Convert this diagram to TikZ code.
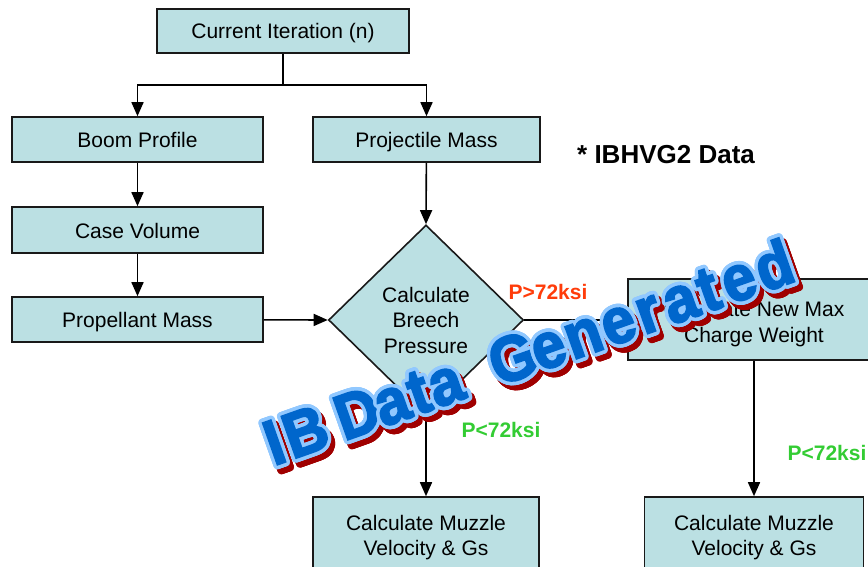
\documentclass[tikz,border=0pt]{standalone}
\usepackage{fontspec}
\setmainfont{Liberation Sans}
\newfontfamily\bannerfont{Liberation Sans}[BoldFeatures={FakeBold=3}]
\usepackage[copies]{contour}
\usetikzlibrary{arrows.meta,shapes.geometric}

\definecolor{boxfill}{RGB}{187,224,227}
\definecolor{hotlabel}{RGB}{255,60,10}
\definecolor{oklabel}{RGB}{51,204,51}
\definecolor{waBlue}{RGB}{0,102,204}
\definecolor{waEdge}{RGB}{145,200,255}
\definecolor{waShade}{RGB}{160,0,0}

\contourlength{3.6pt}
\contournumber{24}

% banner letters and their distance along the baseline
\newcommand\bannerletters{I/0,B/33,D/88,a/124,t/153,a/181,G/253,e/290,n/327,e/364,r/396,a/430,t/460,e/492,d/530}

\begin{document}
\begin{tikzpicture}[x=1pt,y=-1pt,
  flowbox/.style={draw=black!90, line width=1.6pt, fill=boxfill, inner sep=0pt,
    font=\fontsize{21}{25.5}\selectfont, align=center},
  oneline/.style={flowbox, text height=19pt, text depth=3pt},
  decision/.style={flowbox, shape=diamond, minimum width=195pt, minimum height=190pt},
  flow/.style={line width=1.6pt, -{Triangle[length=14pt,width=12pt]}},
  link/.style={line width=1.6pt},
  cond/.style={font=\fontsize{21}{25}\selectfont\bfseries, inner sep=0pt},
  note/.style={font=\fontsize{26}{30}\selectfont\bfseries, inner sep=0pt},
  banner/.style={font=\fontsize{64}{64}\bannerfont\bfseries, anchor=base,
    inner sep=0pt, transform shape, xscale=0.93},
]
\useasboundingbox (0,0) rectangle (868,567);

% process boxes
\node[oneline, minimum width=252pt, minimum height=44pt] (cur)  at (283,31)    {Current Iteration (n)};
\node[oneline, minimum width=251pt, minimum height=45pt] (boom) at (137.5,139.5) {Boom Profile};
\node[oneline, minimum width=227pt, minimum height=45pt] (proj) at (426.5,139.5) {Projectile Mass};
\node[oneline, minimum width=251pt, minimum height=46pt] (case) at (137.5,230)   {Case Volume};
\node[oneline, minimum width=251pt, minimum height=45pt] (prop) at (137.5,319.5) {Propellant Mass};
\node[decision] (breech) at (426,320) {Calculate\\Breech\\Pressure};
\node[flowbox, minimum width=252pt, minimum height=81pt] (newmax) at (754,319.5) {};
\node[inner sep=0pt, font=\fontsize{21}{25.5}\selectfont, align=center] (newmaxtext) at (754,324) {Calculate New Max\\Charge Weight};
\node[flowbox, minimum width=226pt, minimum height=81pt] (muzA) at (426,537.5) {Calculate Muzzle\\Velocity \& Gs};
\node[flowbox, minimum width=219pt, minimum height=81pt] (muzB) at (754,537.5) {Calculate Muzzle\\Velocity \& Gs};

% connectors
\draw[link] (cur.south) -- ++(0,31) coordinate (split);
\draw[flow] (split) -| (boom.north);
\draw[flow] (split) -| (proj.north);
\draw[flow] (boom) -- (case);
\draw[flow] (case) -- (prop);
\draw[flow] (prop) -- (breech.west);
\draw[flow] (proj) -- (breech.north);
\draw[flow] (breech.east) -- (breech.east -| newmax.west);
\draw[flow] (breech.south) -- (muzA.north);
\draw[flow] (newmax) -- (muzB);

% condition labels
\node[cond, text=hotlabel] (hi)  at (548,292) {P>72ksi};
\node[cond, text=oklabel]  (loA) at (501,430) {P<72ksi};
\node[cond, text=oklabel]  (loB) at (827,453) {P<72ksi};
\node[note, anchor=west]   (src) at (577,155) {* IBHVG2 Data};

% slanted banner: dark shadow first, then outlined blue letters
\begin{scope}[shift={(278,447)}, rotate=19.5]
  \foreach \ch/\dd [count=\k] in \bannerletters
    \node[banner, text=waShade] (shade-\k) at (\dd,22.5) {\contour{waShade}{\ch}};
\end{scope}
\begin{scope}[shift={(274,442)}, rotate=19.5]
  \foreach \ch/\dd [count=\k] in \bannerletters
    \node[banner, text=waBlue] (glyph-\k) at (\dd,22.5) {\contour{waEdge}{\ch}};
\end{scope}
\end{tikzpicture}
\end{document}
